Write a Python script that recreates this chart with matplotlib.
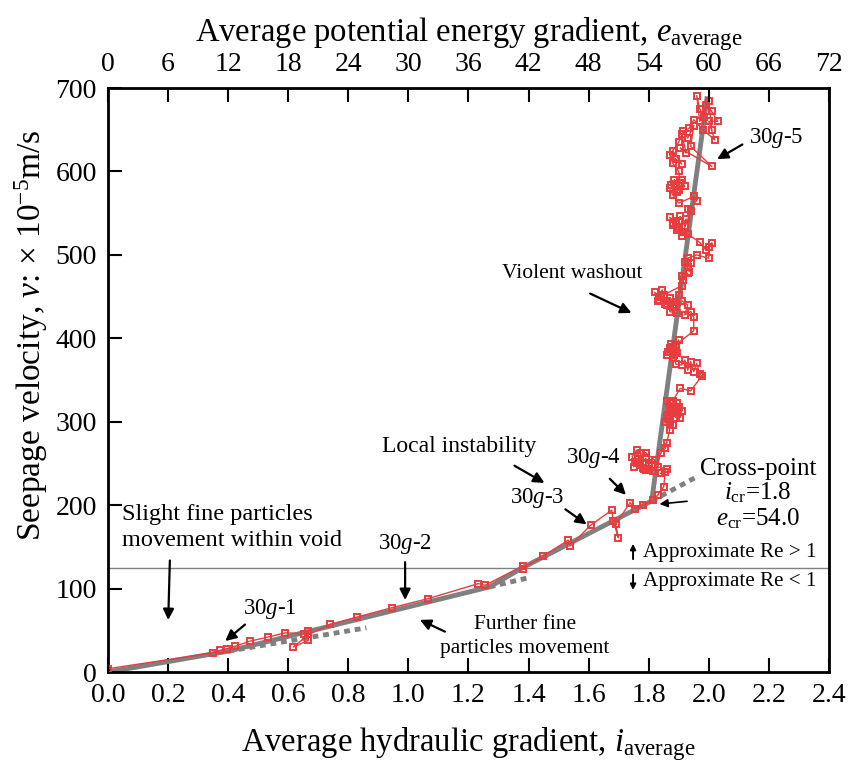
import matplotlib
matplotlib.use("Agg")
import matplotlib.pyplot as plt

plt.rcParams['font.family'] = ['Liberation Serif', 'DejaVu Serif']
plt.rcParams['mathtext.fontset'] = 'custom'
plt.rcParams['mathtext.rm'] = 'Liberation Serif'
plt.rcParams['mathtext.it'] = 'Liberation Serif:italic'
plt.rcParams['mathtext.bf'] = 'Liberation Serif:bold'

# ---- measured series: average hydraulic gradient i vs seepage velocity v ----
i_meas = [0.0, 0.35, 0.373, 0.395, 0.423, 0.473, 0.534, 0.59, 0.652, 0.667, 0.667, 0.617,
          0.667, 0.739, 0.83, 0.944, 1.066, 1.233, 1.255, 1.38, 1.38, 1.449, 1.532, 1.538,
          1.607, 1.677, 1.682, 1.699, 1.69, 1.738, 1.754, 1.78, 1.815, 1.83, 1.85, 1.855,
          1.84, 1.86, 1.83, 1.80,
          1.78, 1.76, 1.745, 1.76, 1.755, 1.775, 1.77, 1.79, 1.80, 1.79, 1.81, 1.82, 1.79,
          1.765, 1.75, 1.77, 1.785, 1.80, 1.815,
          1.84, 1.86, 1.855, 1.87,
          1.855, 1.87, 1.86, 1.88, 1.875, 1.89, 1.90, 1.91, 1.905, 1.895, 1.87, 1.88,
          1.865, 1.885, 1.895, 1.875, 1.86,
          1.88, 1.905, 1.94, 1.977,
          1.97, 1.96, 1.95, 1.94, 1.93, 1.92, 1.91, 1.89, 1.885, 1.87, 1.86, 1.875, 1.89,
          1.88, 1.865, 1.88, 1.895,
          1.90, 1.89,
          1.95, 1.95, 1.94, 1.92,
          1.93, 1.91, 1.895, 1.87, 1.885, 1.86, 1.84, 1.82, 1.83, 1.845, 1.86, 1.88, 1.90, 1.91,
          1.85, 1.835, 1.855, 1.87, 1.89,
          1.915, 1.93,
          1.91, 1.93, 1.92, 1.935, 1.94, 1.93, 1.96, 2.00, 2.00, 2.01, 1.99, 1.97,
          1.93, 1.91, 1.90, 1.88, 1.87, 1.89, 1.905, 1.92, 1.925,
          1.895, 1.88, 1.9, 1.915,
          1.94, 1.93, 1.96, 1.95, 1.90,
          1.88, 1.87, 1.89, 1.885, 1.90, 1.92, 1.91,
          1.875, 1.895, 1.905,
          1.90, 1.88, 1.87, 1.89, 1.91, 1.88, 1.90, 1.915, 1.93, 1.95, 1.94, 2.01,
          1.905, 1.925, 1.91, 1.935, 1.95,
          1.98, 2.02, 2.00, 2.03, 2.01, 1.99, 1.985, 1.97, 1.96, 1.97, 2.00, 2.01]
v_meas = [4, 23, 26, 28, 31, 37, 42, 47, 46, 49, 38, 30,
          45, 57, 66, 77, 88, 106, 104, 127, 124, 139, 158, 151,
          176, 194, 181, 161, 177, 203, 196, 200, 206, 212, 222, 240,
          238, 243, 246, 242,
          244, 250, 258, 266, 252, 262, 248, 256, 250, 242, 248, 254, 263,
          255, 246, 251, 243, 247, 241,
          262, 275, 268, 290,
          300, 318, 325, 310, 322, 305, 318, 313, 305, 312, 300, 296,
          308, 316, 322, 314, 306,
          325, 340, 337, 355,
          357, 370, 360, 372, 362, 374, 368, 369, 380, 388, 380, 393, 385,
          376, 384, 390, 382,
          398, 392,
          409, 425, 432, 428,
          440, 445, 430, 432, 440, 445, 450, 455, 445, 458, 440, 438, 452, 463,
          452, 446, 441, 448, 444,
          470, 478,
          475, 485, 492, 480, 490, 496, 500, 496, 510, 514, 506, 515,
          525, 523, 532, 538, 545, 540, 546, 535, 543,
          530, 536, 541, 528,
          552, 555, 565, 570, 562,
          572, 580, 585, 590, 578, 582, 590,
          584, 575, 586,
          600, 610, 620, 615, 609, 625, 635, 648, 640, 655, 630, 606,
          628, 622, 645, 652, 662,
          650, 638, 660, 660, 672, 680, 665, 675, 691, 660, 685, 650]

# ---- fitted piecewise trend (gray) ----
i_fit = [0.0, 0.40, 1.27, 1.38, 1.81, 1.995]
v_fit = [0.0, 25, 102, 125, 205, 690]
# dotted extensions of the fitted segments
ext1_i, ext1_v = [0.40, 0.86], [25, 53]
ext2_i, ext2_v = [1.27, 1.40], [102, 113]
ext3_i, ext3_v = [1.81, 1.955], [205, 233]

re_limit = 125

x_ticks = [0.0, 0.2, 0.4, 0.6, 0.8, 1.0, 1.2, 1.4, 1.6, 1.8, 2.0, 2.2, 2.4]
x_ticklabels = ['0.0', '0.2', '0.4', '0.6', '0.8', '1.0', '1.2', '1.4', '1.6', '1.8', '2.0', '2.2', '2.4']
top_ticks = [0, 6, 12, 18, 24, 30, 36, 42, 48, 54, 60, 66, 72]
y_ticks = [0, 100, 200, 300, 400, 500, 600, 700]

red = '#e83c3f'
gray = '#808080'

fig = plt.figure(figsize=(8.51, 7.72), dpi=100)
ax = fig.add_axes([0.127, 0.1295, 0.847, 0.7565])

ax.axhline(re_limit, color=gray, lw=1.0, zorder=1)
ax.plot(i_fit, v_fit, color=gray, lw=3.5, zorder=2, solid_capstyle='butt')
for xi, yi in [(ext1_i, ext1_v), (ext2_i, ext2_v), (ext3_i, ext3_v)]:
    ax.plot(xi, yi, color=gray, lw=3.5, ls=(0, (1.2, 1.0)), zorder=2)
ax.plot(i_meas, v_meas, color=red, lw=1.0, marker='s', ms=4.2, mfc='none',
        mec=red, mew=1.4, zorder=3)

ax.set_xlim(0, 2.4)
ax.set_ylim(0, 700)
ax.set_xticks(x_ticks)
ax.set_xticklabels(x_ticklabels)
ax.set_yticks(y_ticks)
ax.tick_params(axis='both', direction='in', length=10, width=1.5, labelsize=20, pad=8)
ax.tick_params(axis='y', right=False)
for s in ax.spines.values():
    s.set_linewidth(2)

ax.set_xlabel(r'Average hydraulic gradient, $i_{\mathrm{average}}$', fontsize=23.5, labelpad=12)
ax.set_ylabel(r'Seepage velocity, $v$: × 10$^{-5}$m/s', fontsize=24)
ax.yaxis.set_label_coords(-0.08, 0.577)

ax2 = ax.twiny()
ax2.set_xlim(0, 72)
ax2.set_xticks(top_ticks)
ax2.tick_params(axis='x', direction='in', length=10, width=1.5, labelsize=20, pad=8)
ax2.set_xlabel(r'Average potential energy gradient, $e_{\mathrm{average}}$', fontsize=23.5, labelpad=8)

arrow = dict(arrowstyle='-|>', color='black', lw=1.6, mutation_scale=16)
gfs = 16.5

ax.annotate('', xy=(2.02, 613), xytext=(2.12, 634), arrowprops=arrow)
ax.text(2.224, 640, r'30$g$-5', fontsize=gfs, ha='center', va='center')

ax.annotate('', xy=(1.751, 429), xytext=(1.597, 455), arrowprops=arrow)
ax.text(1.544, 478, 'Violent washout', fontsize=15.5, ha='center', va='center')

ax.annotate('', xy=(1.461, 225), xytext=(1.345, 249), arrowprops=arrow)
ax.text(1.168, 270, 'Local instability', fontsize=17, ha='center', va='center')

ax.annotate('', xy=(1.731, 210), xytext=(1.664, 234), arrowprops=arrow)
ax.text(1.615, 257, r'30$g$-4', fontsize=gfs, ha='center', va='center')

ax.annotate('', xy=(1.601, 175), xytext=(1.515, 197), arrowprops=arrow)
ax.text(1.428, 209, r'30$g$-3', fontsize=gfs, ha='center', va='center')

ax.annotate('', xy=(0.989, 83), xytext=(0.989, 135), arrowprops=arrow)
ax.text(0.989, 153, r'30$g$-2', fontsize=gfs, ha='center', va='center')

ax.annotate('', xy=(0.383, 35), xytext=(0.463, 59), arrowprops=arrow)
ax.text(0.54, 75, r'30$g$-1', fontsize=gfs, ha='center', va='center')

ax.annotate('', xy=(0.20, 59), xytext=(0.206, 137), arrowprops=arrow)
ax.text(0.045, 173, 'Slight fine particles\nmovement within void', fontsize=17.5,
        ha='left', va='center', linespacing=1.3)

ax.annotate('', xy=(1.03, 64), xytext=(1.13, 47), arrowprops=arrow)
ax.text(1.388, 43, 'Further fine\nparticles movement', fontsize=15.5, ha='center', va='center',
        linespacing=1.35, multialignment='center')

ax.annotate('', xy=(1.827, 201), xytext=(1.937, 205),
            arrowprops=dict(arrowstyle='-|>', color='black', lw=1.2, mutation_scale=12))
ax.text(2.164, 213, 'Cross-point\n' + r'$i_{\mathrm{cr}}$=1.8' + '\n' + r'$e_{\mathrm{cr}}$=54.0',
        fontsize=18, ha='center', va='center', linespacing=1.05)

small_arrow = dict(arrowstyle='-|>', color='black', lw=1.4, mutation_scale=8)
ax.annotate('', xy=(1.748, 157), xytext=(1.748, 132), arrowprops=small_arrow)
ax.annotate('', xy=(1.748, 95), xytext=(1.748, 120), arrowprops=small_arrow)
ax.text(1.78, 143, 'Approximate Re > 1', fontsize=15.2, ha='left', va='center')
ax.text(1.78, 109, 'Approximate Re < 1', fontsize=15.2, ha='left', va='center')

fig.savefig('out.png', dpi=100)
